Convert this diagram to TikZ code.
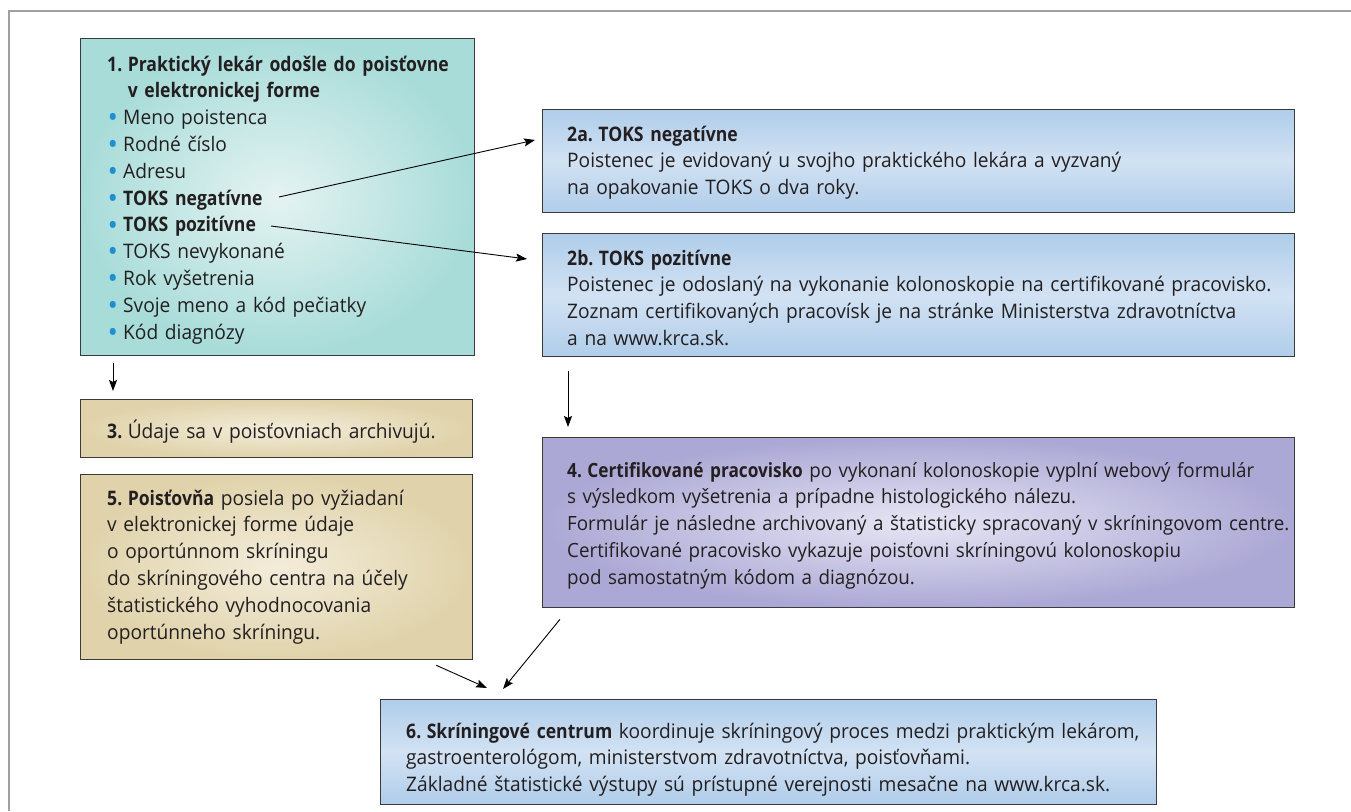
\documentclass[tikz,border=0pt]{standalone}
\usepackage{fontspec}
\setmainfont{Open Sans}[FakeStretch=0.958, BoldFeatures={FakeStretch=0.88}]
\usetikzlibrary{arrows.meta,calc}
\definecolor{tealE}{HTML}{A8DCD9}
\definecolor{tealC}{HTML}{E4F3F2}
\definecolor{blueE}{HTML}{B0CDEA}
\definecolor{blueC}{HTML}{D2E2F3}
\definecolor{tanE}{HTML}{E0D3AB}
\definecolor{tanC}{HTML}{F3ECDA}
\definecolor{lavE}{HTML}{ACA8D5}
\definecolor{lavC}{HTML}{E6E6F4}
\definecolor{edge}{HTML}{3A3A3A}
\definecolor{frame}{HTML}{A0A0A0}
\definecolor{dotblue}{HTML}{1E90D0}
\definecolor{ink}{HTML}{231F20}
\newcommand\bul{\makebox[16pt][l]{\hspace{0.5pt}\textcolor{dotblue}{\raisebox{-3.2pt}{\scalebox{1.45}{•}}}}}
\newcommand\nsp{\hspace{5.5pt}}
\tikzset{
  box/.style={draw=edge, line width=1.3pt, anchor=north west, inner sep=0pt},
  tealbox/.style={box, shading=radial, inner color=tealC, outer color=tealE},
  bluebox/.style={box, top color=blueE, bottom color=blueE, middle color=blueC},
  tanbox/.style={box, shading=radial, inner color=tanC, outer color=tanE},
  lavbox/.style={box, shading=radial, inner color=lavC, outer color=lavE},
  txt/.style={inner sep=0pt, anchor=base west, align=left, text width=#1, text=ink,
    font=\fontsize{20}{26.8}\selectfont},
  arr/.style={-{Stealth[length=11pt,width=8pt,inset=2pt]}, line width=0.9pt, black}
}
\begin{document}
\begin{tikzpicture}[x=1pt,y=-1pt]
\useasboundingbox (0,0) rectangle (1351,811);
\fill[white] (0,0) rectangle (1351,811);
\draw[frame, line width=2pt] (1351,11) -- (9,11) -- (9,811);

% boxes
\node[tealbox, minimum width=394pt, minimum height=317pt] (b1) at (80,38) {};
\node[bluebox, minimum width=752pt, minimum height=103pt] (b2a) at (542,109) {};
\node[bluebox, minimum width=752pt, minimum height=123pt] (b2b) at (542,233) {};
\node[tanbox, minimum width=392pt, minimum height=58pt] (b3) at (80,399) {};
\node[lavbox, minimum width=752pt, minimum height=170pt] (b4) at (542,437) {};
\node[tanbox, minimum width=392pt, minimum height=185pt] (b5) at (80,474) {};
\node[bluebox, minimum width=776pt, minimum height=105pt] (b6) at (380,699) {};

% texts
\node[txt=380pt] (t1) at (107,71) {\textbf{1.\nsp Praktický lekár odošle do poisťovne}\\
\textbf{\hphantom{1.\nsp}v elektronickej forme}\\
\bul Meno poistenca\\
\bul Rodné číslo\\
\bul Adresu\\
\bul\textbf{TOKS negatívne}\\
\bul\textbf{TOKS pozitívne}\\
\bul TOKS nevykonané\\
\bul Rok vyšetrenia\\
\bul Svoje meno a kód pečiatky\\
\bul Kód diagnózy};

\node[txt=770pt] (t2a) at (567,141) {\textbf{2a.\nsp TOKS negatívne}\\
Poistenec je evidovaný u svojho praktického lekára a vyzvaný\\
na opakovanie TOKS o dva roky.};

\node[txt=770pt] (t2b) at (567,265) {\textbf{2b.\nsp TOKS pozitívne}\\
Poistenec je odoslaný na vykonanie kolonoskopie na certifikované pracovisko.\\
Zoznam certifikovaných pracovísk je na stránke Ministerstva zdravotníctva\\
a na www.krca.sk.};

\node[txt=380pt] (t3) at (107,438) {\textbf{3.}\nsp Údaje sa v poisťovniach archivujú.};

\node[txt=770pt, font=\fontsize{19.6}{26.9}\selectfont] (t4) at (567,477) {\textbf{4.\nsp Certifikované pracovisko} po vykonaní kolonoskopie vyplní webový formulár\\
s výsledkom vyšetrenia a prípadne histologického nálezu.\\
Formulár je následne archivovaný a štatisticky spracovaný v skríningovom centre.\\
Certifikované pracovisko vykazuje poisťovni skríningovú kolonoskopiu\\
pod samostatným kódom a diagnózou.};

\node[txt=380pt] (t5) at (107,505) {\textbf{5.\nsp Poisťovňa} posiela po vyžiadaní\\
v elektronickej forme údaje\\
o oportúnnom skríningu\\
do skríningového centra na účely\\
štatistického vyhodnocovania\\
oportúnneho skríningu.};

\node[txt=770pt] (t6) at (406,738) {\textbf{6.\nsp Skríningové centrum} koordinuje skríningový proces medzi praktickým lekárom,\\
gastroenterológom, ministerstvom zdravotníctva, poisťovňami.\\
Základné štatistické výstupy sú prístupné verejnosti mesačne na www.krca.sk.};

% connector end points (ends of the bold list items)
\coordinate (neg) at (279,197);
\coordinate (poz) at (271,226);

\draw[arr] (neg) -- ($(b2a.north west)+(-7,31)$);
\draw[arr] (poz) -- ($(b2b.north west)+(-15,26)$);
\draw[arr] ($(b1.south west)+(33,7)$) -- ($(b3.north west)+(33,-8)$);
\draw[arr] ($(b2b.south west)+(26,14)$) -- ($(b4.north west)+(26,-10)$);
\draw[arr] ($(b5.south east)+(-37,5)$) -- ($(b6.north west)+(107,-11)$);
\draw[arr] ($(b4.south west)+(18,11)$) -- ($(b6.north west)+(123,-10)$);
\end{tikzpicture}
\end{document}
